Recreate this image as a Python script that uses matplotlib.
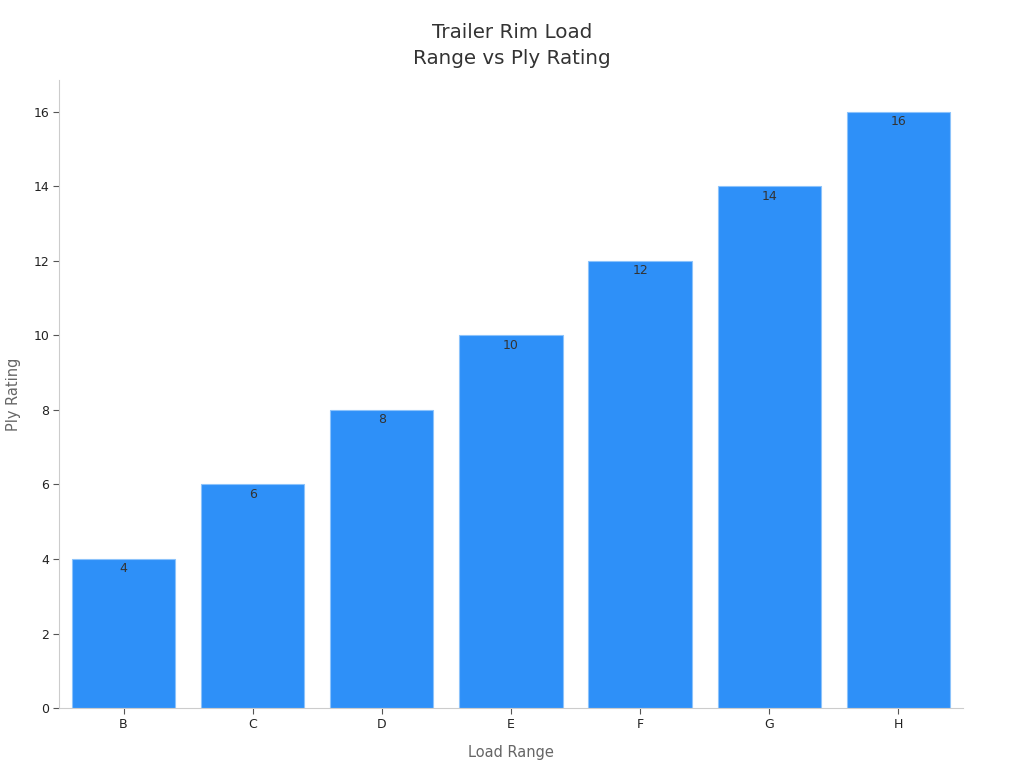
import matplotlib.pyplot as plt
import numpy as np

load_ranges = ["B", "C", "D", "E", "F", "G", "H"]
ply_ratings = [4, 6, 8, 10, 12, 14, 16]

fig = plt.figure(figsize=(10.24, 7.68), dpi=100)
ax = fig.add_axes([0.0576, 0.078, 0.8828, 0.818])

x = np.arange(len(load_ranges))
bars = ax.bar(x, ply_ratings, width=0.8, color="#2E90F8", edgecolor="#8cc3fb", linewidth=0.8)

for xi, v in zip(x, ply_ratings):
    ax.annotate(str(v), (xi, v), xytext=(0, -2.5), textcoords="offset points",
                ha="center", va="top", fontsize=9, color="#333333")

ax.set_xlim(-0.5, 6.5)
ax.set_ylim(0, 16.85)
ax.set_xticks(x)
ax.set_xticklabels(load_ranges)
ax.set_yticks(range(0, 17, 2))
ax.tick_params(labelsize=9, colors="#222222", length=4, pad=3)
ax.tick_params(axis="both", color="#555555")

for side in ["top", "right"]:
    ax.spines[side].set_visible(False)
for side in ["left", "bottom"]:
    ax.spines[side].set_color("#cccccc")

ax.set_xlabel("Load Range", fontsize=10.5, color="#666666", labelpad=10)
ax.set_ylabel("Ply Rating", fontsize=10.5, color="#666666", labelpad=9)
fig.suptitle("Trailer Rim Load\nRange vs Ply Rating", fontsize=14.3, color="#333333",
             y=0.97, linespacing=1.45)

fig.savefig("out.png", dpi=100)
